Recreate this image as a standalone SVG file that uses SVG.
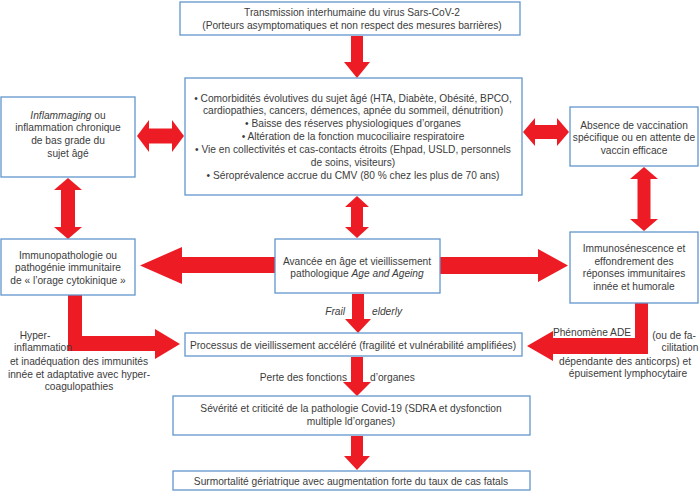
<svg xmlns="http://www.w3.org/2000/svg" width="700" height="494" viewBox="0 0 700 494">
<style>
.box{fill:#fff;stroke:#6296cc;stroke-width:1.3}
.t{font-family:"Liberation Sans",Arial,sans-serif;font-size:10.2px;fill:#3c3c3c;text-anchor:middle}
.l{text-anchor:start}
.r{text-anchor:end}
.i{font-style:italic}
.ar{fill:#ed1c24}
</style>
<rect width="700" height="494" fill="#fff"/>
<g id="connectors">
<polygon class="ar" points="351,36 363,36 363,62 370,62 357,78 344,62 351,62"/>
<polygon class="ar" points="137,136 149,120 149,128.5 172,128.5 172,120 184,136 172,152 172,143.5 149,143.5 149,152"/>
<polygon class="ar" points="523,132 535,118 535,125 557,125 557,118 569,132 557,146 557,139 535,139 535,146"/>
<polygon class="ar" points="68,178 82,190 75,190 75,227 82,227 68,239 54,227 61,227 61,190 54,190"/>
<polygon class="ar" points="644,167 658,179 650.5,179 650.5,219 658,219 644,231 630,219 637.5,219 637.5,179 630,179"/>
<polygon class="ar" points="357,196 369,207 363,207 363,227 369,227 357,238 345,227 351,227 351,207 345,207"/>
<polygon class="ar" points="275,257 182,257 182,247 140,265.5 182,284 182,273 275,273"/>
<polygon class="ar" points="440,257 538,257 538,249 568,265.5 538,282 538,274 440,274"/>
<polygon class="ar" points="352,294 364,294 364,319 371,319 358,333 345,319 352,319"/>
<polygon class="ar" points="351,357 363,357 363,382 371,382 357,396 343,382 351,382"/>
<polygon class="ar" points="351,436 363,436 363,456 370,456 357,470 344,456 351,456"/>
<polygon class="ar" points="68,295 82,295 82,336 155,336 155,329 180,344 155,359 155,351 68,351"/>
<polygon class="ar" points="635,303 648,303 648,354 553,354 553,361 527,346 553,331 553,338 635,338"/>
<rect x="553" y="325" width="80" height="12.5" fill="#fff"/>
<text class="t" x="592" y="336">Phénomène ADE</text>
<text class="t i r" x="345" y="314.5">Frail</text>
<text class="t i l" x="372" y="314.5">elderly</text>
<text class="t r" x="347" y="380.5">Perte des fonctions</text>
<text class="t l" x="370" y="380.5">d’organes</text>
<text class="t" x="35" y="338.5">Hyper-</text>
<text class="t" x="43" y="350.5">inflammation</text>
<text class="t" x="79" y="365">et inadéquation des immunités</text>
<text class="t" x="79" y="377.5">innée et adaptative avec hyper-</text>
<text class="t" x="79" y="390">coagulopathies</text>
<text class="t" x="674" y="338.5">(ou de fa-</text>
<text class="t" x="680" y="351">cilitation</text>
<text class="t" x="625" y="365">dépendante des anticorps) et</text>
<text class="t" x="628" y="377">épuisement lymphocytaire</text>
</g>
<g id="transmission">
<rect class="box" x="180" y="2" width="340" height="33"/>
<text class="t" x="352" y="15.5">Transmission interhumaine du virus Sars-CoV-2</text>
<text class="t" x="352" y="29">(Porteurs asymptomatiques et non respect des mesures barrières)</text>
</g>
<g id="comorbidites">
<rect class="box" x="185" y="78" width="337" height="117"/>
<text class="t" x="353" y="101.5">• Comorbidités évolutives du sujet âgé (HTA, Diabète, Obésité, BPCO,</text>
<text class="t" x="353" y="114.4">cardiopathies, cancers, démences, apnée du sommeil, dénutrition)</text>
<text class="t" x="353" y="127.3">• Baisse des réserves physiologiques d’organes</text>
<text class="t" x="353" y="140.2">• Altération de la fonction mucociliaire respiratoire</text>
<text class="t" x="353" y="153.1">• Vie en collectivités et cas-contacts étroits (Ehpad, USLD, personnels</text>
<text class="t" x="353" y="166">de soins, visiteurs)</text>
<text class="t" x="353" y="178.9">• Séroprévalence accrue du CMV (80 % chez les plus de 70 ans)</text>
</g>
<g id="inflammaging">
<rect class="box" x="1" y="97" width="134" height="80"/>
<text class="t" x="68" y="118.5"><tspan class="i">Inflammaging</tspan> ou</text>
<text class="t" x="68" y="131.3">inflammation chronique</text>
<text class="t" x="68" y="144.1">de bas grade du</text>
<text class="t" x="68" y="156.9">sujet âgé</text>
</g>
<g id="absence">
<rect class="box" x="570" y="107" width="128" height="59"/>
<text class="t" x="634" y="128.5">Absence de vaccination</text>
<text class="t" x="634" y="141.3">spécifique ou en attente de</text>
<text class="t" x="634" y="154.1">vaccin efficace</text>
</g>
<g id="immunopathologie">
<rect class="box" x="1" y="239" width="134" height="56"/>
<text class="t" x="68" y="258.5">Immunopathologie ou</text>
<text class="t" x="68" y="271">pathogénie immunitaire</text>
<text class="t" x="68" y="283.5">de « l’orage cytokinique »</text>
</g>
<g id="avancee">
<rect class="box" x="275" y="239" width="165" height="54"/>
<text class="t" x="357" y="264.5">Avancée en âge et vieillissement</text>
<text class="t" x="357" y="277">pathologique <tspan class="i">Age and Ageing</tspan></text>
</g>
<g id="immunosenescence">
<rect class="box" x="570" y="232" width="128" height="71"/>
<text class="t" x="634" y="252">Immunosénescence et</text>
<text class="t" x="634" y="264.5">effondrement des</text>
<text class="t" x="634" y="277">réponses immunitaires</text>
<text class="t" x="634" y="289.5">innée et humorale</text>
</g>
<g id="processus">
<rect class="box" x="185" y="333" width="337" height="23"/>
<text class="t" x="353" y="348.5">Processus de vieillissement accéléré (fragilité et vulnérabilité amplifiées)</text>
</g>
<g id="severite">
<rect class="box" x="173" y="396" width="357" height="39"/>
<text class="t" x="351" y="411.5">Sévérité et criticité de la pathologie Covid-19 (SDRA et dysfonction</text>
<text class="t" x="351" y="425">multiple ld’organes)</text>
</g>
<g id="surmortalite">
<rect class="box" x="173" y="471" width="357" height="19"/>
<text class="t" x="351" y="484.5">Surmortalité gériatrique avec augmentation forte du taux de cas fatals</text>
</g>
</svg>
